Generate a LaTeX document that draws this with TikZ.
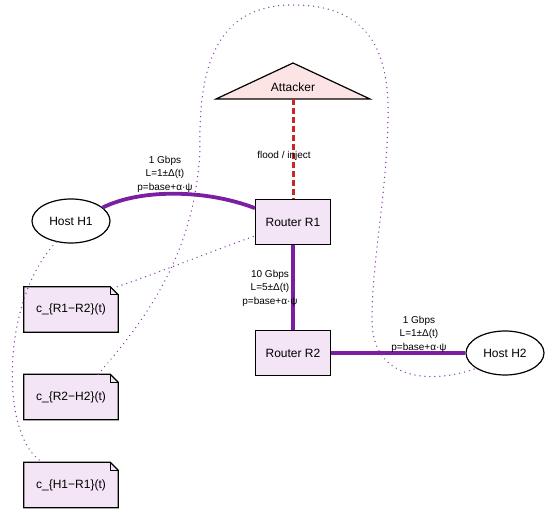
\documentclass[tikz,border=0pt]{standalone}
\usepackage{fontspec}
\setmainfont{Liberation Sans}
\usetikzlibrary{arrows.meta, calc, backgrounds, shapes.geometric}
\definecolor{lila}{HTML}{F3E5F5}
\definecolor{morado}{HTML}{7B1FA2}
\definecolor{punteo}{HTML}{8E3FA8}
\definecolor{rojo}{HTML}{C62828}
\definecolor{rosa}{HTML}{FDE4E4}
\tikzset{
  host/.style    = {draw, ellipse, line width=1.2pt, minimum width=78pt, minimum height=44pt, inner sep=0pt, font=\fontsize{12}{14}\selectfont},
  router/.style  = {draw, fill=lila, line width=1.2pt, minimum width=75pt, minimum height=45pt, inner sep=0pt, font=\fontsize{12}{14}\selectfont},
  nota/.style    = {minimum width=94pt, minimum height=45pt, inner sep=0pt, font=\fontsize{12}{14}\selectfont},
  enlace/.style  = {morado, line width=3.8pt},
  ataque/.style  = {rojo, line width=3pt, dash pattern=on 6pt off 3pt},
  traza/.style   = {punteo, line width=1.4pt, dash pattern=on 0.1pt off 4.9pt, line cap=round},
  etiq/.style    = {font=\fontsize{10}{13.5}\selectfont, align=center, inner sep=1pt}
}

\begin{document}
\begin{tikzpicture}[x=1pt, y=-1pt]
  \useasboundingbox (0,0) rectangle (550,513);

  \node[host]   (h1) at (71,221)  {Host H1};
  \node[router] (r1) at (293,222) {Router R1};
  \node[router] (r2) at (293,353) {Router R2};
  \node[host]   (h2) at (505,353) {Host H2};

  \filldraw[fill=rosa, line width=1.2pt, line join=miter] (293,63) -- (370,99) -- (216,99) -- cycle;
  \node[font=\fontsize{12}{14}\selectfont] (atk) at (293,87) {Attacker};
  \coordinate (atkb) at (293,99);

  \foreach \nm/\yy/\txt in {cr1r2/309.5/{c\_\{R1−R2\}(t)}, cr2h2/397/{c\_\{R2−H2\}(t)}, ch1r1/485/{c\_\{H1−R1\}(t)}}{
    \node[nota] (\nm) at (71,\yy) {\txt};
    \begin{scope}[on background layer]
      \filldraw[fill=lila, line width=1.2pt] (\nm.south west) -- (\nm.north west) -- ([xshift=-8pt]\nm.north east)
        -- ([yshift=-8pt]\nm.north east) -- (\nm.south east) -- cycle;
    \end{scope}
    \draw[line width=0.8pt] ([xshift=-8pt]\nm.north east) -- ([xshift=-8pt,yshift=-8pt]\nm.north east) -- ([yshift=-8pt]\nm.north east);
  }

  % links
  \draw[enlace] (h1.23) .. controls (140,189) and (205,189) .. (r1.160);
  \draw[enlace] (r1) -- (r2);
  \draw[enlace] (r2) -- (h2);
  \draw[ataque] (atkb) -- (r1);

  \node[etiq] (lh1r1) at (165,174) {1 Gbps\\L=1±Δ(t)\\p=base+α·ψ};
  \node[etiq] (lr1r2) at (270,288) {10 Gbps\\L=5±Δ(t)\\p=base+α·ψ};
  \node[etiq] (lr2h2) at (419,334) {1 Gbps\\L=1±Δ(t)\\p=base+α·ψ};
  \node[etiq] (latk)  at (284,156) {flood / inject};

  % dotted traces
  \draw[traza] ([xshift=-1pt]cr1r2.north east) .. controls (160,272) and (210,252) .. (r1.200);
  \draw[traza] (h1.235) .. controls (0,300) and (0,440) .. ([xshift=-28pt]ch1r1.north);
  \draw[traza] ([xshift=27pt]cr2h2.north) .. controls (150,315) and (195,250) .. (200,150)
    .. controls (198,60) and (220,5) .. (293,5)
    .. controls (368,5) and (390,50) .. (388,120)
    .. controls (386,200) and (372,260) .. (372,320)
    .. controls (372,380) and (430,385) .. (h2.208);
\end{tikzpicture}
\end{document}
